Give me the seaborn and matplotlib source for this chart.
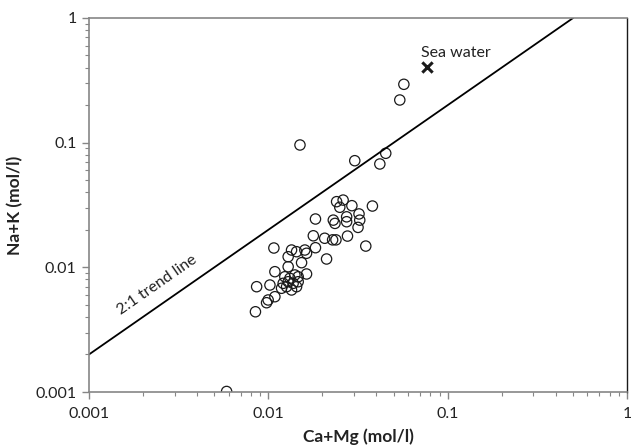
import numpy as np
import pandas as pd
import matplotlib
matplotlib.use("Agg")
import matplotlib.pyplot as plt
import seaborn as sns
from matplotlib.ticker import LogLocator, FixedLocator, FixedFormatter, NullFormatter

# Sample data (mol/l)
ca_mg = [0.0150, 0.0303, 0.0451, 0.0418, 0.0540, 0.0569,
         0.0240, 0.0261, 0.0250, 0.0292, 0.0380, 0.0230, 0.0235, 0.0273, 0.0273,
         0.0320, 0.0323, 0.0316, 0.0183, 0.0178, 0.0206, 0.0228, 0.0238, 0.0276,
         0.0349, 0.01346, 0.01436, 0.01597, 0.01632, 0.0183, 0.0211, 0.01073,
         0.01289, 0.01531, 0.01087, 0.01289, 0.01632, 0.01235, 0.01318, 0.01405,
         0.01466, 0.01209, 0.01289, 0.01374, 0.01466, 0.01263, 0.01346, 0.01436,
         0.01184, 0.0086, 0.0102, 0.01087, 0.00997, 0.00977, 0.00847, 0.00585]
na_k = [0.0957, 0.0716, 0.0821, 0.0674, 0.2197, 0.2935,
        0.0336, 0.0346, 0.0303, 0.0312, 0.0310, 0.0239, 0.0225, 0.0254, 0.0232,
        0.0268, 0.0239, 0.0209, 0.0244, 0.0179, 0.0171, 0.0166, 0.0166, 0.0178,
        0.0148, 0.01376, 0.01334, 0.01376, 0.01296, 0.01436, 0.01166, 0.01428,
        0.01216, 0.01089, 0.00922, 0.01011, 0.00884, 0.0084, 0.00816, 0.00868,
        0.0084, 0.00744, 0.00766, 0.00744, 0.00766, 0.00699, 0.00658, 0.00699,
        0.00679, 0.00699, 0.00721, 0.00581, 0.00547, 0.0052, 0.0044, 0.00101]

seawater_x = [0.0764]
seawater_y = [0.404]

trend_x = [0.001, 0.5]
trend_ratio = 2.0

ticks = [0.001, 0.01, 0.1, 1]
tick_labels = ["0.001", "0.01", "0.1", "1"]

df = pd.DataFrame({"Ca+Mg": ca_mg, "Na+K": na_k})
trend = pd.DataFrame({"x": trend_x, "y": [v * trend_ratio for v in trend_x]})

sns.set_style("white")
plt.rcParams["font.family"] = ["Lato", "DejaVu Sans"]

fig = plt.figure(figsize=(6.31, 4.48), dpi=100)
ax = fig.add_axes([0.141, 0.125, 0.853, 0.835])

sns.lineplot(data=trend, x="x", y="y", color="black", linewidth=1.3, ax=ax)
sns.scatterplot(data=df, x="Ca+Mg", y="Na+K", marker="o", s=55,
                facecolor="none", edgecolor="#1a1a1a", linewidth=0.9, ax=ax)
ax.scatter(seawater_x, seawater_y, marker="x", s=55, color="#1a1a1a", linewidths=2.2)

ax.set_xscale("log")
ax.set_yscale("log")
ax.set_xlim(0.001, 1)
ax.set_ylim(0.001, 1)

for a in (ax.xaxis, ax.yaxis):
    a.set_major_locator(FixedLocator(ticks))
    a.set_major_formatter(FixedFormatter(tick_labels))
    a.set_minor_locator(LogLocator(base=10, subs=np.arange(2, 10), numticks=10))
    a.set_minor_formatter(NullFormatter())

ax.tick_params(which="major", direction="out", length=5, width=1, color="#868686",
               labelsize=11.5, labelcolor="#222222", pad=4)
ax.tick_params(which="minor", direction="out", length=3, width=0.8, color="#868686")
ax.tick_params(axis="x", which="major", pad=6)
ax.tick_params(bottom=True, left=True, which="both")

for side in ("left", "bottom", "top"):
    ax.spines[side].set_color("#868686")
    ax.spines[side].set_linewidth(1.2)
ax.spines["right"].set_color("#1a1a1a")
ax.spines["right"].set_linewidth(1.0)

ax.set_xlabel("Ca+Mg (mol/l)", fontsize=12.5, fontweight="bold", color="#222222", labelpad=5)
ax.set_ylabel("Na+K (mol/l)", fontsize=12.5, fontweight="bold", color="#222222", labelpad=9)

ax.text(0.0024, 0.0072, "2:1 trend line", rotation=34.8, fontsize=11.5,
        ha="center", va="center", color="#222222")
ax.text(0.0707, 0.523, "Sea water", fontsize=11.5, ha="left", va="center", color="#222222")

fig.savefig("out.png", dpi=100)
